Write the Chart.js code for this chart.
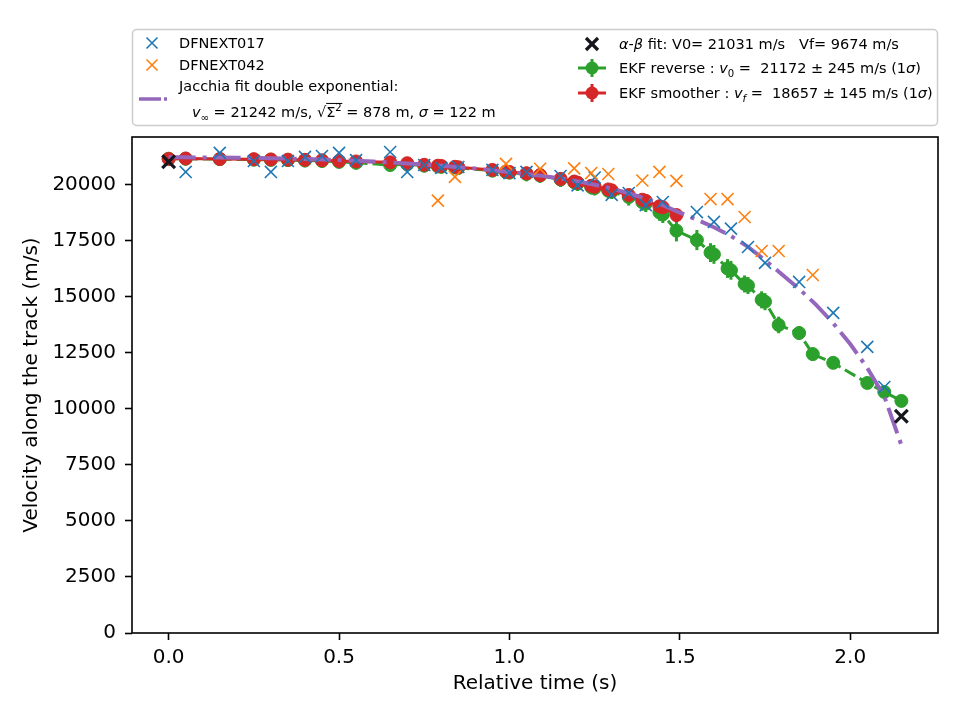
<!DOCTYPE html>
<html>
<head>
<meta charset="utf-8">
<script src="https://cdn.jsdelivr.net/npm/chart.js@4.4.0/dist/chart.umd.min.js"></script>
<style>
  html, body { margin: 0; padding: 0; background: #fff; }
  #wrap { width: 960px; height: 720px; }
</style>
</head>
<body>
<div id="wrap"><canvas id="velChart" width="960" height="720"></canvas></div>
<script>
// camera observations
const blueT = [0.05, 0.15, 0.25, 0.30, 0.35, 0.40, 0.45, 0.50, 0.55, 0.65, 0.70, 0.75, 0.80, 0.85, 0.95, 1.00, 1.05,
  1.15, 1.20, 1.25, 1.30, 1.35, 1.40, 1.45, 1.55, 1.60, 1.65, 1.70, 1.75, 1.85, 1.95, 2.05, 2.10];
const blueV = [20580, 21430, 21070, 20580, 21070, 21250, 21290, 21430, 21110, 21470, 20580, 20890, 20760, 20800, 20670, 20530, 20580,
  20400, 19980, 20330, 19560, 19640, 19100, 19240, 18790, 18350, 18050, 17230, 16520, 15670, 14290, 12770, 10980];

const orangeT = [0.79, 0.84, 0.99, 1.09, 1.19, 1.24, 1.29, 1.39, 1.44, 1.49, 1.59, 1.64, 1.69, 1.74, 1.79, 1.89];
const orangeV = [19300, 20360, 20940, 20720, 20740, 20530, 20490, 20200, 20580, 20180, 19370, 19370, 18570, 17050, 17050, 15980];

// alpha-beta fit end points
const abT = [0, 2.15];
const abV = [21031, 9674];

// EKF smoother
const redT = [0, 0.05, 0.15, 0.25, 0.30, 0.35, 0.40, 0.45, 0.50, 0.55, 0.65, 0.70, 0.75, 0.79, 0.80, 0.84, 0.85, 0.95, 0.99, 1.00,
  1.05, 1.09, 1.15, 1.19, 1.20, 1.24, 1.25, 1.29, 1.30, 1.35, 1.39, 1.40, 1.44, 1.45, 1.49];
const redV = [21160, 21180, 21160, 21150, 21140, 21130, 21120, 21100, 21070, 21050, 21010, 20970, 20900, 20860, 20850, 20810, 20790, 20670, 20600, 20580,
  20520, 20440, 20270, 20150, 20100, 19960, 19920, 19800, 19760, 19550, 19340, 19290, 19050, 19000, 18657];
const redErr = [145, 145, 145, 145, 145, 145, 145, 145, 145, 145, 145, 145, 145, 145, 145, 145, 145, 145, 145, 145,
  145, 145, 145, 145, 145, 145, 145, 145, 145, 145, 145, 145, 145, 145, 145];

// EKF reverse
const greenT = [0, 0.05, 0.15, 0.25, 0.30, 0.35, 0.40, 0.45, 0.50, 0.55, 0.65, 0.70, 0.75, 0.79, 0.80, 0.84, 0.85, 0.95, 0.99, 1.00,
  1.05, 1.09, 1.15, 1.19, 1.20, 1.24, 1.25, 1.29, 1.30, 1.35, 1.39, 1.40, 1.44, 1.45, 1.49, 1.55, 1.59, 1.60, 1.64, 1.65,
  1.69, 1.70, 1.74, 1.75, 1.79, 1.85, 1.89, 1.95, 2.05, 2.10, 2.15];
const greenV = [21172, 21170, 21150, 21130, 21120, 21110, 21090, 21070, 21030, 20990, 20890, 20920, 20860, 20830, 20810, 20780, 20760, 20640, 20570, 20550,
  20490, 20420, 20240, 20120, 20060, 19900, 19860, 19740, 19700, 19460, 19230, 19170, 18780, 18680, 17960, 17540, 16980, 16900, 16270, 16190,
  15580, 15510, 14870, 14790, 13750, 13390, 12450, 12060, 11160, 10760, 10360];
const greenErr = [245, 300, 300, 300, 300, 300, 300, 300, 300, 300, 300, 300, 300, 300, 300, 300, 300, 300, 300, 300,
  330, 330, 330, 330, 330, 330, 330, 330, 330, 380, 380, 380, 380, 380, 480, 450, 420, 420, 420, 420,
  380, 380, 380, 380, 370, 310, 300, 270, 230, 200, 180];

// Jacchia double exponential fit
const jacT = [0, 0.05, 0.10, 0.15, 0.20, 0.25, 0.30, 0.35, 0.40, 0.45, 0.50, 0.55, 0.60, 0.65, 0.70, 0.75, 0.80, 0.85, 0.90, 0.95,
  1.00, 1.05, 1.10, 1.15, 1.20, 1.25, 1.30, 1.35, 1.40, 1.45, 1.50, 1.55, 1.60, 1.65, 1.70, 1.75, 1.80, 1.85, 1.90, 1.95,
  2.00, 2.05, 2.10, 2.15];
const jacV = [21235, 21232, 21228, 21222, 21214, 21204, 21192, 21177, 21158, 21136, 21110, 21080, 21045, 21005, 20960, 20910, 20855, 20795, 20730, 20655,
  20575, 20490, 20395, 20290, 20160, 20010, 19840, 19630, 19390, 19100, 18760, 18450, 18110, 17720, 17240, 16640, 16000, 15360, 14650, 13830,
  12900, 11830, 10560, 8390];

const xTicks = [0, 0.5, 1.0, 1.5, 2.0];
const yTicks = [0, 2500, 5000, 7500, 10000, 12500, 15000, 17500, 20000];

const FONT = '"DejaVu Sans", sans-serif';
const C_BLUE = "#1f77b4", C_ORANGE = "#ff7f0e", C_GREEN = "#2ca02c", C_RED = "#d62728", C_PURPLE = "#9467bd", C_BLACK = "#15171c";

function pts(t, v) {
  return t.map((x, i) => ({ x: x, y: v[i] }));
}

// error bars drawn under each EKF series
const errorBars = {
  id: "errorBars",
  beforeDatasetDraw(chart, args) {
    const ds = chart.data.datasets[args.index];
    if (!ds.errors) return;
    const ctx = chart.ctx;
    const ys = chart.scales.y;
    const area = chart.chartArea;
    ctx.save();
    ctx.beginPath();
    ctx.rect(area.left, area.top, area.right - area.left, area.bottom - area.top);
    ctx.clip();
    ctx.strokeStyle = ds.borderColor;
    ctx.lineWidth = 3;
    args.meta.data.forEach((p, i) => {
      const d = ds.data[i];
      ctx.beginPath();
      ctx.moveTo(p.x, ys.getPixelForValue(d.y - ds.errors[i]));
      ctx.lineTo(p.x, ys.getPixelForValue(d.y + ds.errors[i]));
      ctx.stroke();
    });
    ctx.restore();
  }
};

// draw runs of text with italic / sub / sup pieces
function rich(ctx, x, y, parts, size) {
  for (const p of parts) {
    const s = (p.sub || p.sup) ? size * 0.7 : size;
    ctx.font = (p.it ? "italic " : "") + s + "px " + FONT;
    const dy = p.sub ? size * 0.25 : (p.sup ? -size * 0.4 : 0);
    ctx.fillText(p.t, x, y + dy);
    const w = ctx.measureText(p.t).width;
    if (p.over) {
      ctx.save();
      ctx.lineWidth = 1;
      ctx.strokeStyle = "#000";
      ctx.beginPath();
      ctx.moveTo(x, y - size * 0.95);
      ctx.lineTo(x + w + (p.overExtra || 0), y - size * 0.95);
      ctx.stroke();
      ctx.restore();
    }
    x += w;
  }
  return x;
}

function drawX(ctx, x, y, r, color, lw) {
  ctx.save();
  ctx.strokeStyle = color;
  ctx.lineWidth = lw;
  ctx.beginPath();
  ctx.moveTo(x - r, y - r); ctx.lineTo(x + r, y + r);
  ctx.moveTo(x - r, y + r); ctx.lineTo(x + r, y - r);
  ctx.stroke();
  ctx.restore();
}

function drawEkfHandle(ctx, x, y, color, dash) {
  ctx.save();
  ctx.strokeStyle = color;
  ctx.fillStyle = color;
  ctx.lineWidth = 3;
  ctx.setLineDash(dash);
  ctx.beginPath(); ctx.moveTo(x - 14, y); ctx.lineTo(x + 14, y); ctx.stroke();
  ctx.setLineDash([]);
  ctx.beginPath(); ctx.moveTo(x, y - 9); ctx.lineTo(x, y + 9); ctx.stroke();
  ctx.beginPath(); ctx.arc(x, y, 6.5, 0, Math.PI * 2); ctx.fill();
  ctx.restore();
}

const legendBox = {
  id: "legendBox",
  afterDraw(chart) {
    const ctx = chart.ctx;
    const size = 14.5;
    ctx.save();
    // frame
    ctx.fillStyle = "rgba(255,255,255,0.8)";
    ctx.strokeStyle = "#cccccc";
    ctx.lineWidth = 1.5;
    ctx.beginPath();
    ctx.roundRect(132.5, 29.5, 805, 96, 4);
    ctx.fill();
    ctx.stroke();

    ctx.fillStyle = "#000";
    ctx.textBaseline = "alphabetic";
    const off = size * 0.36;

    drawX(ctx, 152, 43, 5.5, C_BLUE, 1.6);
    rich(ctx, 179, 43 + off, [{ t: "DFNEXT017" }], size);
    drawX(ctx, 152, 65, 5.5, C_ORANGE, 1.6);
    rich(ctx, 179, 65 + off, [{ t: "DFNEXT042" }], size);

    // Jacchia handle (dash-dot)
    ctx.save();
    ctx.strokeStyle = C_PURPLE;
    ctx.lineWidth = 3.5;
    ctx.beginPath(); ctx.moveTo(139, 99); ctx.lineTo(161, 99); ctx.stroke();
    ctx.beginPath(); ctx.moveTo(164, 99); ctx.lineTo(167, 99); ctx.stroke();
    ctx.restore();
    rich(ctx, 179, 86 + off, [{ t: "Jacchia fit double exponential:" }], size);
    let x = rich(ctx, 192, 112 + off, [
      { t: "v", it: true }, { t: "\u221e", sub: true }, { t: " = 21242 m/s, " }
    ], size);
    ctx.font = size + "px " + FONT;
    ctx.fillText("\u221a", x, 112 + off);
    x += ctx.measureText("\u221a").width;
    x = rich(ctx, x, 112 + off, [{ t: "\u03a3", over: true, overExtra: 7 }, { t: "2", sup: true }], size);
    rich(ctx, x, 112 + off, [
      { t: " = 878 m, " }, { t: "\u03c3", it: true }, { t: " = 122 m" }
    ], size);

    // right column
    drawX(ctx, 592, 44, 6, C_BLACK, 3.2);
    rich(ctx, 619, 44 + off, [
      { t: "\u03b1", it: true }, { t: "-" }, { t: "\u03b2", it: true }, { t: " fit: V0= 21031 m/s   Vf= 9674 m/s" }
    ], size);
    drawEkfHandle(ctx, 592, 68, C_GREEN, [12, 5]);
    rich(ctx, 619, 68 + off, [
      { t: "EKF reverse : " }, { t: "v", it: true }, { t: "0", sub: true },
      { t: " =  21172 \u00b1 245 m/s (1" }, { t: "\u03c3", it: true }, { t: ")" }
    ], size);
    drawEkfHandle(ctx, 592, 93, C_RED, []);
    rich(ctx, 619, 93 + off, [
      { t: "EKF smoother : " }, { t: "v", it: true }, { t: "f", sub: true, it: true },
      { t: " =  18657 \u00b1 145 m/s (1" }, { t: "\u03c3", it: true }, { t: ")" }
    ], size);
    ctx.restore();
  }
};

// full box around the axes
const frame = {
  id: "frame",
  afterDraw(chart) {
    const a = chart.chartArea;
    const ctx = chart.ctx;
    ctx.save();
    ctx.strokeStyle = "#000";
    ctx.lineWidth = 1.6;
    ctx.strokeRect(a.left, a.top, a.right - a.left, a.bottom - a.top);
    ctx.restore();
  }
};

const canvas = document.getElementById("velChart");
const velChart = new Chart(canvas.getContext("2d"), {
  type: "scatter",
  data: {
    datasets: [
      {
        label: "alpha-beta fit",
        data: pts(abT, abV),
        pointStyle: "crossRot",
        pointRadius: 9,
        borderColor: C_BLACK,
        backgroundColor: C_BLACK,
        pointBorderWidth: 3.2,
        showLine: false
      },
      {
        label: "DFNEXT042",
        data: pts(orangeT, orangeV),
        pointStyle: "crossRot",
        pointRadius: 8.5,
        borderColor: C_ORANGE,
        backgroundColor: C_ORANGE,
        pointBorderWidth: 1.6,
        showLine: false
      },
      {
        label: "DFNEXT017",
        data: pts(blueT, blueV),
        pointStyle: "crossRot",
        pointRadius: 8.5,
        borderColor: C_BLUE,
        backgroundColor: C_BLUE,
        pointBorderWidth: 1.6,
        showLine: false
      },
      {
        label: "Jacchia",
        data: pts(jacT, jacV),
        showLine: true,
        pointRadius: 0,
        borderColor: C_PURPLE,
        borderWidth: 4,
        borderDash: [27, 7, 4, 7],
        tension: 0
      },
      {
        label: "EKF smoother",
        data: pts(redT, redV),
        errors: redErr,
        showLine: true,
        borderColor: C_RED,
        backgroundColor: C_RED,
        borderWidth: 3,
        pointRadius: 6.5,
        pointBorderWidth: 1,
        tension: 0
      },
      {
        label: "EKF reverse",
        data: pts(greenT, greenV),
        errors: greenErr,
        showLine: true,
        borderColor: C_GREEN,
        backgroundColor: C_GREEN,
        borderWidth: 3,
        borderDash: [12, 5],
        pointRadius: 6.5,
        pointBorderWidth: 1,
        tension: 0
      }
    ]
  },
  options: {
    responsive: false,
    animation: false,
    layout: { padding: { top: 137, right: 22, left: 0, bottom: 0 } },
    plugins: {
      legend: { display: false },
      tooltip: { enabled: false },
      title: { display: false }
    },
    scales: {
      x: {
        type: "linear",
        min: -0.1075,
        max: 2.2575,
        afterBuildTicks: (s) => { s.ticks = xTicks.map(v => ({ value: v })); },
        afterFit: (s) => { s.height = 87; },
        grid: { drawOnChartArea: false, drawTicks: true, tickLength: 7, tickWidth: 1.6, tickColor: "#000" },
        border: { display: false },
        ticks: {
          color: "#000",
          font: { family: FONT, size: 20 },
          padding: 6,
          maxRotation: 0,
          callback: (v) => Number(v).toFixed(1)
        },
        title: {
          display: true,
          text: "Relative time (s)",
          color: "#000",
          font: { family: FONT, size: 20 },
          padding: { top: 0, bottom: 24 }
        }
      },
      y: {
        type: "linear",
        min: 0,
        max: 22140,
        afterBuildTicks: (s) => { s.ticks = yTicks.map(v => ({ value: v })); },
        afterFit: (s) => { s.width = 132; },
        grid: { drawOnChartArea: false, drawTicks: true, tickLength: 7, tickWidth: 1.6, tickColor: "#000" },
        border: { display: false },
        ticks: {
          color: "#000",
          font: { family: FONT, size: 20 },
          padding: 9,
          callback: (v) => String(v)
        },
        title: {
          display: true,
          text: "Velocity along the track (m/s)",
          color: "#000",
          font: { family: FONT, size: 20 },
          padding: { top: 20, bottom: 0 }
        }
      }
    }
  },
  plugins: [errorBars, frame, legendBox]
});
</script>
</body>
</html>
